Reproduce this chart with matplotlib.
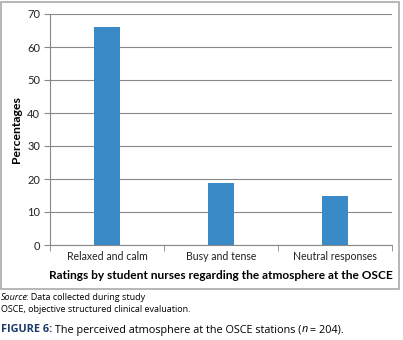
import matplotlib
matplotlib.use("Agg")
import matplotlib.pyplot as plt
from matplotlib.patches import Rectangle
import numpy as np

categories = ["Relaxed and calm", "Busy and tense", "Neutral responses"]
values = [66.0, 18.7, 14.8]
yticks = [0, 10, 20, 30, 40, 50, 60, 70]

W, H = 403, 340
fig = plt.figure(figsize=(W / 100, H / 100), dpi=100)
plt.rcParams['font.family'] = ['Lato', 'DejaVu Sans']

left, right, top, bottom = 50, 392, 14, 245
ax = fig.add_axes([left / W, 1 - bottom / H, (right - left) / W, (bottom - top) / H])

x = np.arange(len(categories))
ax.bar(x, values, width=0.22, color="#3a8ac8", zorder=3)
ax.set_xlim(-0.5, len(categories) - 0.5)
ax.set_ylim(0, 70)
ax.set_yticks(yticks)
ax.set_yticklabels([str(t) for t in yticks], fontsize=8, color="#222222")
ax.set_xticks(x)
ax.set_xticklabels(categories, fontsize=7.6, color="#222222")
ax.set_xticks(np.arange(len(categories) + 1) - 0.5, minor=True)
ax.tick_params(axis="x", which="major", length=0, pad=4)
ax.tick_params(axis="x", which="minor", length=4, color="#888888", direction="out")
ax.tick_params(axis="y", length=4, color="#888888", pad=3)
ax.grid(axis="y", color="#888888", linewidth=0.8, zorder=0)
for s in ["top", "right"]:
    ax.spines[s].set_visible(False)
ax.spines["left"].set_color("#888888")
ax.spines["bottom"].set_color("#888888")
ax.set_ylabel("Percentages", fontsize=8.8, fontweight="bold", labelpad=4)
ax.set_xlabel("Ratings by student nurses regarding the atmosphere at the OSCE",
              fontsize=8.6, fontweight="bold", labelpad=6)

fig.patches.append(Rectangle((1 / W, 1 - 289 / H), 398 / W, 287 / H,
                             transform=fig.transFigure, fill=False,
                             edgecolor="#aaaaaa", linewidth=1.2))

fam = ['Open Sans', 'DejaVu Sans']
renderer = fig.canvas.get_renderer()

def run(parts, x0, ypix, size):
    xx = x0
    for txt, kw, adj in parts:
        t = fig.text(xx / W, 1 - ypix / H, txt, fontsize=size, family=fam, va="center", **kw)
        bb = t.get_window_extent(renderer=renderer)
        xx += bb.width + adj

run([("Source", {"style": "italic"}, -2), (": Data collected during study", {}, 0)], 1, 297, 6.5)
run([("OSCE, objective structured clinical evaluation.", {}, 0)], 1, 309, 6.5)
run([("FIGURE 6:", {"fontweight": "bold", "color": "#1a3a6a"}, 0),
     (" The perceived atmosphere at the OSCE stations (", {}, 0),
     ("n", {"style": "italic"}, -1), (" = 204).", {}, 0)], 1, 330, 7.8)

fig.savefig("out.png", dpi=100)
